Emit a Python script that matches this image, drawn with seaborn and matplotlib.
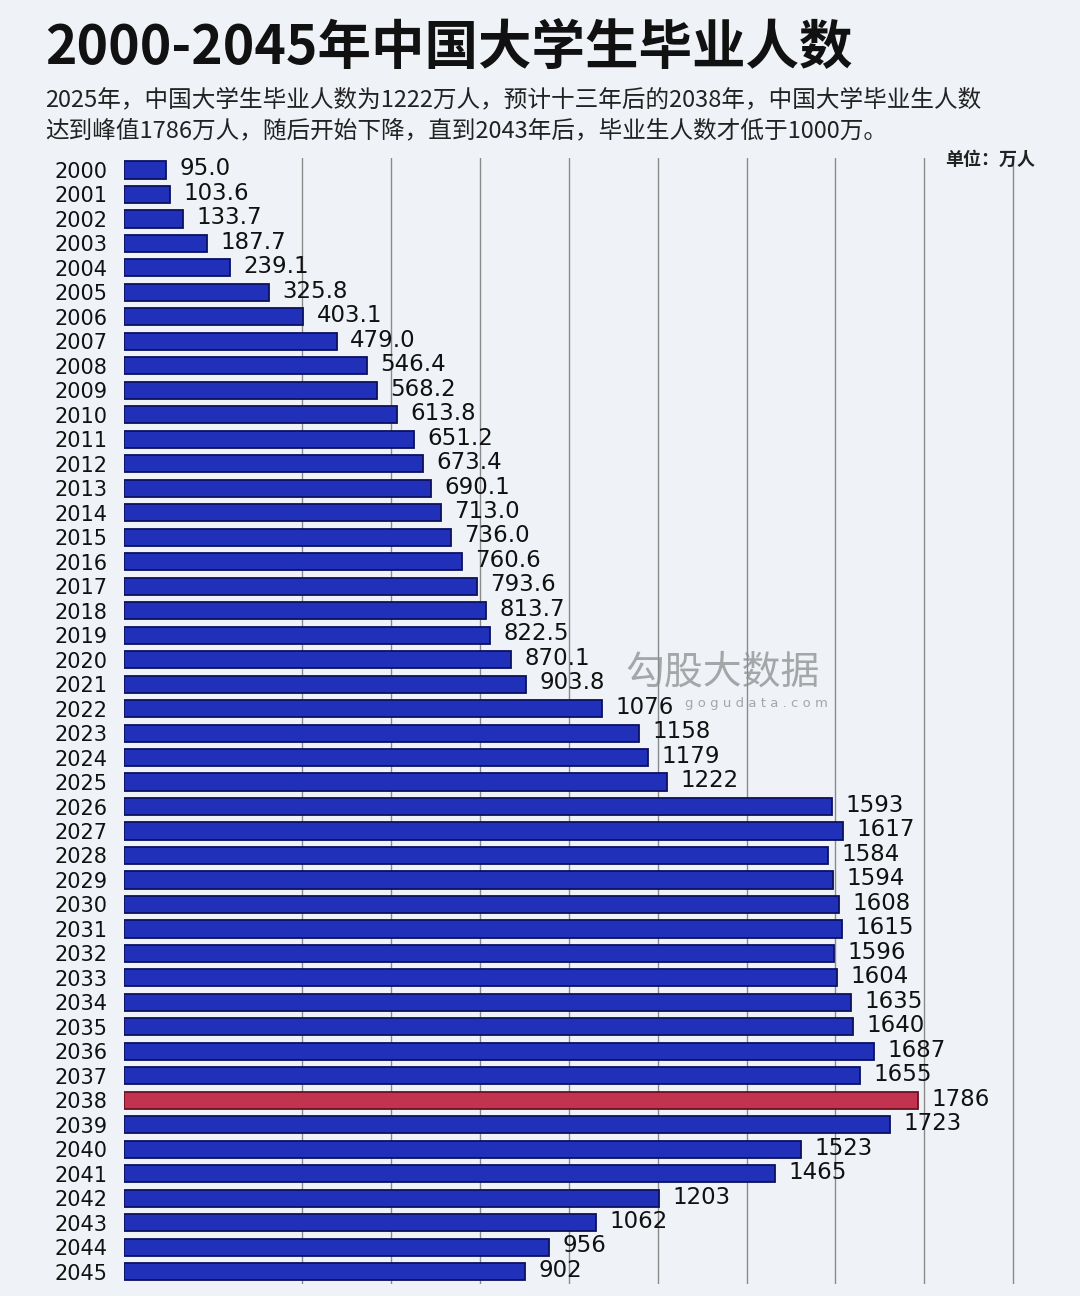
import numpy as np
import pandas as pd
import matplotlib
matplotlib.use("Agg")
import matplotlib.pyplot as plt
import seaborn as sns

# data (unit: 万人)
years = list(range(2000, 2046))
graduates = [95.0, 103.6, 133.7, 187.7, 239.1, 325.8, 403.1, 479.0, 546.4, 568.2,
             613.8, 651.2, 673.4, 690.1, 713.0, 736.0, 760.6, 793.6, 813.7, 822.5,
             870.1, 903.8, 1076, 1158, 1179, 1222, 1593, 1617, 1584, 1594,
             1608, 1615, 1596, 1604, 1635, 1640, 1687, 1655, 1786, 1723,
             1523, 1465, 1203, 1062, 956, 902]
peak_year = 2038
last_decimal_year = 2021

title = "2000-2045年中国大学生毕业人数"
subtitle = ("2025年，中国大学生毕业人数为1222万人，预计十三年后的2038年，中国大学毕业生人数\n"
            "达到峰值1786万人，随后开始下降，直到2043年后，毕业生人数才低于1000万。")
unit = "单位：万人"

df = pd.DataFrame({"year": [str(y) for y in years], "value": graduates})

sns.set_style("white")
plt.rcParams['font.family'] = ['DejaVu Sans', 'Noto Sans CJK SC']
cjk = ['Noto Sans CJK SC', 'DejaVu Sans']

bg = '#EFF3F8'
blue, blue_edge = '#2030B8', '#0C1060'
red, red_edge = '#C23350', '#6A1020'

fig = plt.figure(figsize=(10.8, 12.96), dpi=100, facecolor=bg)
ax = fig.add_axes([0.1148, 0.0093, 0.8852, 0.869])
ax.set_facecolor(bg)

colors = {str(y): (red if y == peak_year else blue) for y in years}
sns.barplot(data=df, x="value", y="year", hue="year", palette=colors,
            legend=False, width=0.7, orient="h", ax=ax, saturation=1)

for p, y in zip(ax.patches, years):
    p.set_edgecolor(red_edge if y == peak_year else blue_edge)
    p.set_linewidth(1.3)

for i, (y, v) in enumerate(zip(years, graduates)):
    lab = "%.1f" % v if y <= last_decimal_year else "%d" % v
    ax.text(v + 30, i - 0.05, lab, va='center', ha='left', fontsize=16.5, color='#111111')

ax.set_xlim(0, 2150)
ax.set_ylim(45.5, -0.5)
ax.set_xticks(np.arange(400, 2001, 200))
ax.xaxis.grid(True, color='#8a8a8a', linewidth=1.0)
ax.set_axisbelow(True)
ax.tick_params(axis='x', labelbottom=False, length=0)
ax.tick_params(axis='y', length=0, pad=12, labelsize=15, labelcolor='#111111')
ax.set_xlabel('')
ax.set_ylabel('')
sns.despine(ax=ax, left=True, bottom=True)

fig.text(0.042, 0.962, title, fontsize=38.5, fontweight='heavy', family=cjk,
         color='#111111', va='center', ha='left')
fig.text(0.042, 0.911, subtitle, fontsize=17, family=cjk, color='#222222',
         va='center', ha='left', linespacing=1.4)
fig.text(0.958, 0.877, unit, fontsize=13, fontweight='bold', family=cjk,
         color='#222222', va='center', ha='right')

# watermark
fig.text(0.669, 0.481, "勾股大数据", fontsize=28, family=cjk, color='#8c8c8c',
         alpha=0.75, va='center', ha='center')
fig.text(0.7, 0.457, "g o g u d a t a . c o m", fontsize=9.5, color='#8c8c8c',
         alpha=0.75, va='center', ha='center')

fig.savefig("out.png", dpi=100, facecolor=bg)
